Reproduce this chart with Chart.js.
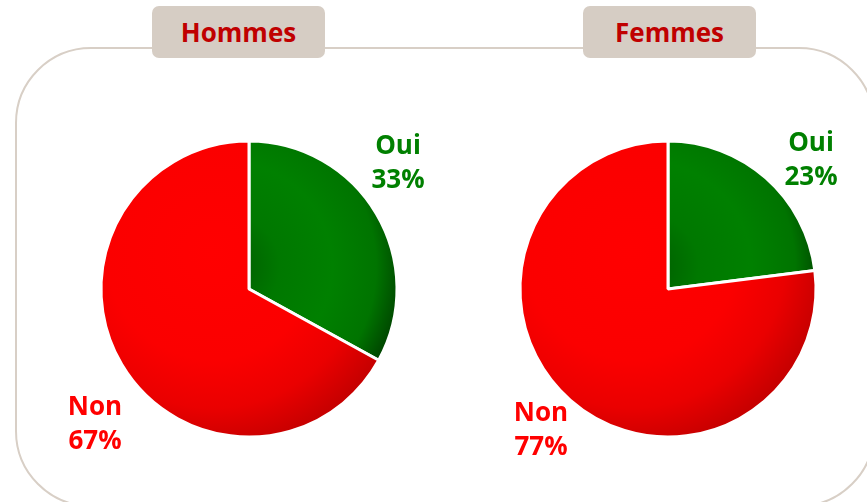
<!DOCTYPE html>
<html><head><meta charset="utf-8">
<script src="https://cdn.jsdelivr.net/npm/chart.js@4"></script>
<style>
html,body{margin:0;padding:0;background:#fff;width:867px;height:502px;overflow:hidden;position:relative;font-family:"Open Sans",sans-serif;}
#frame{position:absolute;left:15px;top:47px;width:856px;height:456px;border:2px solid #d8cfc6;border-radius:76px;box-sizing:content-box;}
.title{position:absolute;top:6px;width:173px;height:52px;background:#d6cdc4;border-radius:7px;color:#c00000;font-weight:bold;font-size:26px;line-height:52px;text-align:center;}
.lab{position:absolute;font-weight:bold;font-size:26px;line-height:34px;text-align:center;width:100px;}
.oui{color:#008000}.non{color:#ff0000}
canvas{position:absolute;}
</style></head><body>
<div id="frame"></div>
<div class="title" style="left:152px">Hommes</div>
<div class="title" style="left:583px">Femmes</div>
<div style="position:absolute;left:94px;top:134px;width:310px;height:310px"><canvas id="c1"></canvas></div>
<div style="position:absolute;left:513px;top:134px;width:310px;height:310px"><canvas id="c2"></canvas></div>
<div id="labels"></div>
<script>
const categories = ["Oui", "Non"];
const groups = ["Hommes", "Femmes"];
const hommesValues = [33, 67];
const femmesValues = [23, 77];

function grad(ctx, stops, off){
  const chart = ctx.chart; const a = chart.chartArea;
  if(!a) return stops[0][1];
  const cx=(a.left+a.right)/2, cy=(a.top+a.bottom)/2, r=147;
  const gx=cx-off*r, gy=cy-off*r;
  const g = chart.ctx.createRadialGradient(gx,gy,0,gx,gy,r*(1+off*1.3));
  stops.forEach(s=>g.addColorStop(s[0],s[1]));
  return g;
}
const greenStops=[[0,'#005a00'],[0.3,'#007800'],[0.6,'#008000'],[0.85,'#007400'],[1,'#004800']];
const redStops=[[0,'#ff0000'],[0.55,'#fb0000'],[0.8,'#ea0000'],[1,'#c80000']];

function makePie(id, values){
  new Chart(document.getElementById(id), {
    type:'pie',
    data:{labels:categories, datasets:[{data:values,
      backgroundColor:(ctx)=> ctx.dataIndex===0 ? grad(ctx,greenStops,0.15) : grad(ctx,redStops,0.25),
      borderColor:'#ffffff', borderWidth:3}]},
    options:{responsive:true, maintainAspectRatio:false, animation:false, radius:148,
      layout:{padding:0},
      plugins:{legend:{display:false}, tooltip:{enabled:false}}}
  });
}
makePie('c1', hommesValues);
makePie('c2', femmesValues);

const labelPos = [
  {v:hommesValues, oui:[348,127], non:[45,388]},
  {v:femmesValues, oui:[761,124], non:[491,394]}
];
const L = document.getElementById('labels');
labelPos.forEach(p=>{
  [[0,'oui',p.oui],[1,'non',p.non]].forEach(([i,cls,pos])=>{
    const d=document.createElement('div');
    d.className='lab '+cls;
    d.style.left=pos[0]+'px'; d.style.top=pos[1]+'px';
    d.innerHTML=categories[i]+'<br>'+p.v[i]+'%';
    L.appendChild(d);
  });
});
</script>
</body></html>
